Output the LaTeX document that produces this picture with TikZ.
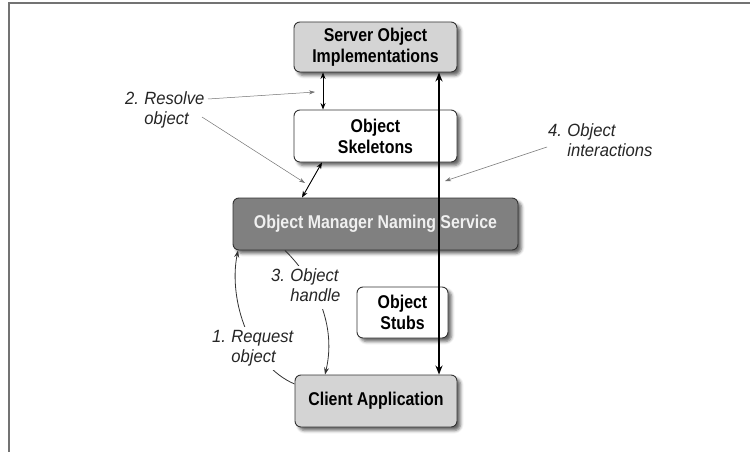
\documentclass[tikz,border=0pt]{standalone}
\usepackage{fontspec}
\setmainfont{Liberation Sans}
\newfontfamily\boxfont[FakeStretch=0.86]{Liberation Sans}
\newfontfamily\labelfont[FakeStretch=0.94]{Liberation Sans}
\usetikzlibrary{arrows.meta,shadows.blur}
% numbered step label: number, then two lines with a hanging indent
\newcommand{\steplabel}[3]{\begin{tabular}{@{}l@{}l@{}}#1.\kern0.3em & #2\\ & #3\end{tabular}}

\begin{document}
\begin{tikzpicture}[x=1pt,y=-1pt,
  box/.style={draw=black!80, line width=0.9pt, rounded corners=6pt, align=center, inner sep=0pt,
    font=\boxfont\bfseries\fontsize{18.5}{21}\selectfont,
    blur shadow={shadow xshift=3.5pt, shadow yshift=-3.5pt, shadow blur radius=3pt, shadow opacity=60}},
  lightbox/.style={box, fill=black!17},
  whitebox/.style={box, fill=white},
  darkbox/.style={box, fill=black!50, text=black!6},
  lbl/.style={anchor=north west, inner sep=1.5pt, fill=white,
    font=\labelfont\itshape\fontsize{17.7}{20}\selectfont, text=black!85},
  pointer/.style={draw=black!55, line width=0.5pt, -{Stealth[length=6pt,width=4pt]}},
  flow/.style={draw=black!80, line width=0.8pt, -{Stealth[length=7pt,width=5pt]}},
  link/.style={line width=0.9pt, {Stealth[length=6.5pt,width=5pt]}-{Stealth[length=6.5pt,width=5pt]}},
  mainlink/.style={line width=1.6pt, {Stealth[length=9pt,width=7pt]}-{Stealth[length=9pt,width=7pt]}}
]
\useasboundingbox (0,0) rectangle (750,452);

% page frame (top and left edges)
\draw[black!55, line width=2pt] (750,3) -- (8.5,3) -- (8.5,452);

% components
\node[lightbox, minimum width=163pt, minimum height=50pt] (soi) at (375.5,47) {Server Object\\Implementations};
\node[whitebox, minimum width=163pt, minimum height=52pt] (skel) at (375.5,136) {Object\\Skeletons};
\node[darkbox, minimum width=285pt, minimum height=52pt] (ons) at (375.5,224) {Object Manager Naming Service};
\node[whitebox, minimum width=91pt, minimum height=51pt] (stubs) at (402.5,312.5) {Object\\Stubs};
\node[lightbox, minimum width=162pt, minimum height=52pt] (client) at (376,401) {Client Application};

% request / handle exchange
\draw[flow] ([yshift=17pt]client.west) .. controls (250,365) and (228,300) .. ([xshift=-137.5pt]ons.south);
\draw[flow] ([xshift=-90.5pt]ons.south) .. controls (310,275) and (338,320) .. ([xshift=-51pt]client.north);

% step labels
\node[lbl] (l2) at (123.5,88.5) {\steplabel{2}{Resolve}{object}};
\node[lbl] (l4) at (546.5,120.5) {\steplabel{4}{Object}{interactions}};
\node[lbl] (l3) at (269.5,265.5) {\steplabel{3}{Object}{handle}};
\node[lbl] (l1) at (210.5,326.5) {\steplabel{1}{Request}{object}};

% links between layers
\coordinate (c1) at (323,0);
\coordinate (c2a) at (322,0);
\coordinate (c2b) at (302,0);
\coordinate (vx) at (439,0);
\draw[link] (soi.south -| c1) -- (skel.north -| c1);
\draw[link] (skel.south -| c2a) -- (ons.north -| c2b);
\draw[mainlink] (soi.south -| vx) -- (client.north -| vx);

% label pointers
\coordinate (p2a) at (208,99);
\coordinate (p2b) at (315,92);
\coordinate (p2c) at (202,117);
\coordinate (p2d) at (305,183);
\coordinate (p4a) at (547,147);
\coordinate (p4b) at (445,181);
\draw[pointer] (p2a) -- (p2b);
\draw[pointer] (p2c) -- (p2d);
\draw[pointer] (p4a) -- (p4b);
\end{tikzpicture}
\end{document}
